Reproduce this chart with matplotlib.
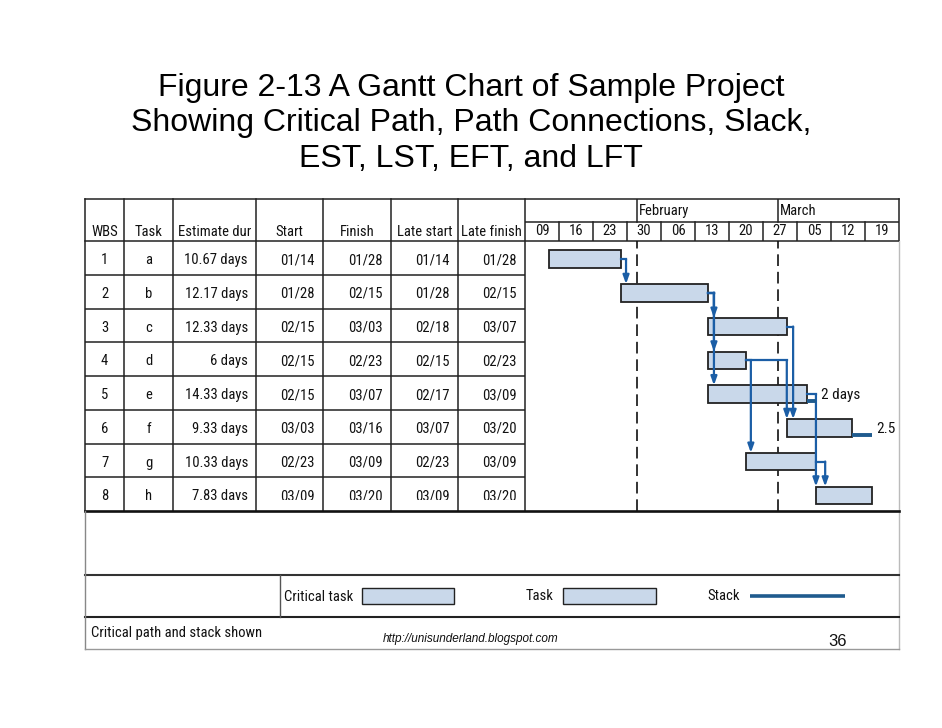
import matplotlib
matplotlib.use('Agg')
import matplotlib.pyplot as plt
from matplotlib import font_manager
from matplotlib.patches import Rectangle


# slide title
title_lines = ['Figure 2-13 A Gantt Chart of Sample Project',
               'Showing Critical Path, Path Connections, Slack,',
               'EST, LST, EFT, and LFT']

# table data
headers = ['WBS', 'Task', 'Estimate dur', 'Start', 'Finish', 'Late start', 'Late finish']
wbs = ['1', '2', '3', '4', '5', '6', '7', '8']
tasks = ['a', 'b', 'c', 'd', 'e', 'f', 'g', 'h']
est_dur = ['10.67 days', '12.17 days', '12.33 days', '6 days', '14.33 days',
           '9.33 days', '10.33 days', '7.83 days']
start = ['01/14', '01/28', '02/15', '02/15', '02/15', '03/03', '02/23', '03/09']
finish = ['01/28', '02/15', '03/03', '02/23', '03/07', '03/16', '03/09', '03/20']
late_start = ['01/14', '01/28', '02/18', '02/15', '02/17', '03/07', '02/23', '03/09']
late_finish = ['01/28', '02/15', '03/07', '02/23', '03/09', '03/20', '03/09', '03/20']

# timescale (days counted from Jan 09)
weeks = ['09', '16', '23', '30', '06', '13', '20', '27', '05', '12', '19']
months = ['February', 'March']
month_day = [23, 52]

# gantt bars, days from Jan 09
bar_start = [4.9, 19.8, 37.7, 37.7, 37.7, 53.9, 45.6, 59.9]
bar_end = [19.8, 37.7, 53.9, 45.4, 58.0, 67.3, 59.9, 71.5]

# path connections: from task, to task, day where the line drops
link_from = ['a', 'b', 'b', 'b', 'c', 'd', 'd', 'e', 'g']
link_to = ['b', 'c', 'd', 'e', 'f', 'f', 'g', 'h', 'h']
link_day = [20.8, 38.9, 38.9, 38.9, 55.2, 53.9, 46.5, 59.9, 61.8]

# slack
slack_task = ['e', 'f']
slack_days = [2.0, 4.2]
slack_label = ['2 days', '2.5']

W, H = 942, 728
COLS = [85, 124, 173, 256, 323, 391, 458, 525]
RIGHT = 899
TOP, MONTH_BOT, HEAD_BOT, BODY_BOT = 199, 222, 241, 511
LEG_TOP, FOOT_TOP, BOTTOM = 575, 617, 649

BAR = '#c9d8ea'
EDGE = '#222222'
BLUE = '#1b5ea6'
SLACK = '#1f5b8e'
LINE = '#222222'

names = {f.name for f in font_manager.fontManager.ttflist}
NARROW = next((n for n in ['Liberation Sans Narrow', 'Roboto Condensed', 'DejaVu Sans']
               if n in names), 'DejaVu Sans')
SANS = 'Liberation Sans' if 'Liberation Sans' in names else 'DejaVu Sans'
NFS = 10.5


def px_axes(fig, x0, y0, x1, y1):
    ax = fig.add_axes([x0 / W, 1 - y1 / H, (x1 - x0) / W, (y1 - y0) / H])
    ax.set_axis_off()
    return ax


def draw_frame(ax):
    kw = dict(color=LINE, lw=1.1)
    ax.plot([COLS[0], RIGHT], [TOP, TOP], **kw)
    ax.plot([COLS[0], RIGHT], [HEAD_BOT, HEAD_BOT], **kw)
    for x in COLS:
        ax.plot([x, x], [TOP, BODY_BOT], **kw)
    ax.plot([RIGHT, RIGHT], [TOP, HEAD_BOT], **kw)
    ax.plot([RIGHT, RIGHT], [HEAD_BOT, BOTTOM], color='#bbbbbb', lw=1.0)
    ax.plot([COLS[0], RIGHT], [BODY_BOT, BODY_BOT], color='#111111', lw=1.9)
    ax.plot([COLS[0], RIGHT], [LEG_TOP, LEG_TOP], color='#333333', lw=1.5)
    ax.plot([COLS[0], RIGHT], [FOOT_TOP, FOOT_TOP], color='#222222', lw=1.5)
    ax.plot([280, 280], [LEG_TOP, FOOT_TOP], color='#555555', lw=1.0)
    ax.plot([COLS[0], COLS[0]], [BODY_BOT, BOTTOM], color='#888888', lw=1.0)
    ax.plot([COLS[0], RIGHT], [BOTTOM, BOTTOM], color='#999999', lw=1.0)


def draw_table(fig, ax):
    for k, h in enumerate(headers):
        ax.text((COLS[k] + COLS[k + 1]) / 2, 232, h, ha='center', va='center',
                family=NARROW, fontsize=NFS, color='#111111')
    ax_t = px_axes(fig, COLS[0], HEAD_BOT, COLS[-1], BODY_BOT)
    ax_t.set_xlim(COLS[0], COLS[-1])
    ax_t.set_ylim(8, 0)
    ax_t.hlines(range(1, 8), COLS[0], COLS[-1], color=LINE, lw=1.1)
    # the last row is cut short in the original
    clip = Rectangle((COLS[0], 0), COLS[-1] - COLS[0], 7.66, transform=ax_t.transData)
    columns = [wbs, tasks, est_dur, start, finish, late_start, late_finish]
    for k, col in enumerate(columns):
        for i, val in enumerate(col):
            if k < 2:
                x, ha = (COLS[k] + COLS[k + 1]) / 2, 'center'
            else:
                x, ha = COLS[k + 1] - 8, 'right'
            t = ax_t.text(x, i + 0.57, val, ha=ha, va='center', family=NARROW,
                          fontsize=NFS, color='#111111', clip_on=True)
            t.set_clip_path(clip)


def draw_gantt(fig):
    # timescale header
    ax_h = px_axes(fig, COLS[-1], TOP, RIGHT, HEAD_BOT)
    ax_h.set_xlim(0, 7 * len(weeks))
    ax_h.set_ylim(HEAD_BOT - TOP, 0)
    mb = MONTH_BOT - TOP
    ax_h.plot([0, 7 * len(weeks)], [mb, mb], color=LINE, lw=1.1)
    for k, w in enumerate(weeks):
        if k > 0:
            ax_h.plot([7 * k, 7 * k], [mb, HEAD_BOT - TOP], color=LINE, lw=1.1)
        ax_h.text(7 * k + 3.5, 32, w, ha='center', va='center', family=NARROW,
                  fontsize=NFS, color='#111111')
    for m, d in zip(months, month_day):
        ax_h.plot([d, d], [0, mb], color=LINE, lw=1.1)
        ax_h.text(d + 0.4, 12, m, ha='left', va='center', family=NARROW,
                  fontsize=NFS, color='#111111')

    # bars and connections
    ax_g = px_axes(fig, COLS[-1], HEAD_BOT, RIGHT, BODY_BOT)
    ax_g.set_xlim(0, 7 * len(weeks))
    ax_g.set_ylim(8, 0)
    for d in month_day:
        ax_g.axvline(d, color='#111111', lw=1.2, ls=(0, (7, 3.5)), zorder=1)
    mids = [i + 0.535 for i in range(len(tasks))]
    ax_g.barh(mids, [e - s for s, e in zip(bar_start, bar_end)], left=bar_start,
              height=0.52, color=BAR, edgecolor=EDGE, lw=1.3, zorder=2)
    for src, dst, x in zip(link_from, link_to, link_day):
        i, j = tasks.index(src), tasks.index(dst)
        y0 = mids[i]
        ax_g.plot([bar_end[i], x], [y0, y0], color=BLUE, lw=1.6,
                  solid_capstyle='projecting', zorder=3)
        ax_g.annotate('', xy=(x, mids[j] - 0.26), xytext=(x, y0),
                      arrowprops=dict(arrowstyle='-|>,head_length=0.5,head_width=0.18',
                                      color=BLUE, lw=1.6, shrinkA=0, shrinkB=0),
                      zorder=3)
    for t, s, lab in zip(slack_task, slack_days, slack_label):
        i = tasks.index(t)
        y = mids[i] + 0.2
        ax_g.plot([bar_end[i], bar_end[i] + s], [y, y], color=SLACK, lw=2.8,
                  solid_capstyle='butt', zorder=3)
        ax_g.text(bar_end[i] + s + 0.9, mids[i] + 0.03, lab, ha='left', va='center',
                  family=NARROW, fontsize=11, color='#111111', clip_on=False)


def draw_legend(ax):
    ax.text(353, 597, 'Critical task', ha='right', va='center', family=NARROW,
            fontsize=NFS, color='#111111')
    ax.add_patch(Rectangle((362, 588), 92, 16, fc=BAR, ec=EDGE, lw=1.0))
    ax.text(553, 596, 'Task', ha='right', va='center', family=NARROW,
            fontsize=NFS, color='#111111')
    ax.add_patch(Rectangle((563, 588), 93, 16, fc=BAR, ec=EDGE, lw=1.0))
    ax.text(740, 596, 'Stack', ha='right', va='center', family=NARROW,
            fontsize=NFS, color='#111111')
    ax.plot([750, 845], [596, 596], color=SLACK, lw=2.6, solid_capstyle='butt')
    ax.text(91, 633, 'Critical path and stack shown', ha='left', va='center',
            family=NARROW, fontsize=NFS, color='#111111')
    ax.text(383, 639, 'http://unisunderland.blogspot.com', ha='left', va='center',
            family=SANS, style='italic', fontsize=8.5, color='#111111')
    ax.text(838, 642, '36', ha='center', va='center', family=SANS, fontsize=12,
            color='#111111')


def main():
    fig = plt.figure(figsize=(W / 100, H / 100), dpi=100)
    fig.patch.set_facecolor('white')
    ax = px_axes(fig, 0, 0, W, H)
    ax.set_xlim(0, W)
    ax.set_ylim(H, 0)
    for k, line in enumerate(title_lines):
        ax.text(471, 96 + 35.5 * k, line, ha='center', va='baseline', family=SANS,
                fontsize=23, color='#000000')
    draw_frame(ax)
    draw_table(fig, ax)
    draw_gantt(fig)
    draw_legend(ax)
    fig.savefig('out.png', dpi=100, facecolor='white')


if __name__ == '__main__':
    main()
